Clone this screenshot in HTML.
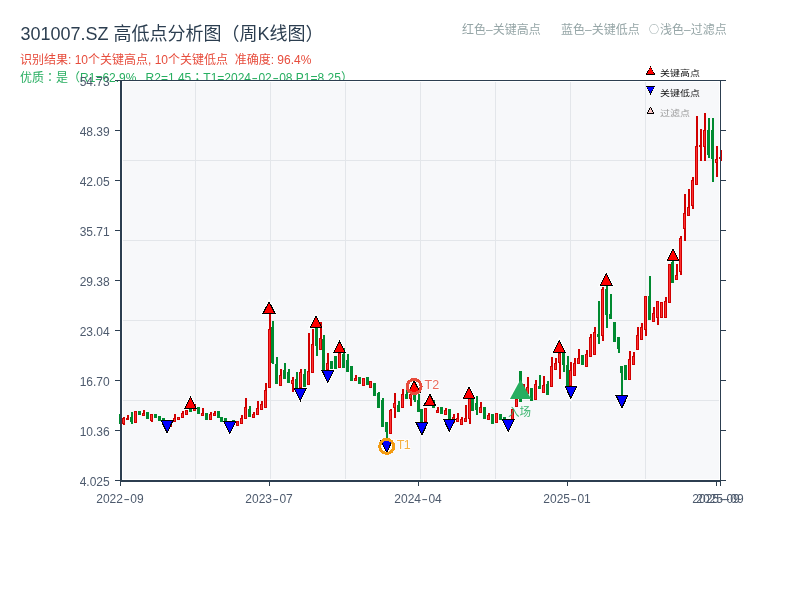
<!DOCTYPE html><html lang="zh-CN"><head><meta charset="utf-8"><title>301007.SZ 高低点分析图（周K线图）</title><style>
html,body{margin:0;padding:0;background:#fff;}
body{width:800px;height:600px;position:relative;overflow:hidden;font-family:"Liberation Sans", "Noto Sans CJK SC", sans-serif;}
.t{position:absolute;white-space:pre;line-height:1;}
.hy{display:inline-block;width:7.4px;text-align:center;transform:scaleX(1.6);}
.tc{font-family:"Noto Sans CJK TC",sans-serif;line-height:0;}
.cj{display:inline-block;width:12px;height:12px;vertical-align:top;font:10px/12px "Noto Sans CJK SC",sans-serif;text-align:center;position:relative;top:-1px;}
.yl{position:absolute;left:39.7px;width:70px;text-align:right;font-size:12px;line-height:1;color:#4d5a6d;}
.xl{position:absolute;width:80px;text-align:center;font-size:12px;line-height:1;color:#4d5a6d;white-space:pre;}
svg{position:absolute;left:0;top:0;}
.lg{position:absolute;font-size:10px;transform:scaleY(0.85);transform-origin:0 50%;line-height:1;white-space:pre;}
</style></head><body>
<div class="t" style="left:20.5px;top:25px;font-size:18px;color:#2c3e50;">301007.SZ 高低点分析图（周K线图）</div>
<div class="t" style="left:20px;top:53.5px;font-size:12px;color:#e74c3c;">识别结果: 10个关键高点, 10个关键低点  准确度: 96.4%</div>
<div class="t" style="left:20px;top:71.5px;font-size:12px;color:#27ae60;">优质<span class="tc" lang="zh-Hant">：</span>是（R1=62.9%<span style="margin-right:2.5px">,</span> R2=1.45<span class="tc" lang="zh-Hant">；</span>T1=2024<span class="hy">-</span>02<span class="hy">-</span>08 P1=8.25）</div>
<div class="t" style="left:462px;top:23.5px;font-size:12px;color:#95a5a6;">红色–关键高点</div>
<div class="t" style="left:561px;top:23.5px;font-size:12px;color:#95a5a6;">蓝色–关键低点</div>
<div class="t" style="left:648px;top:23.5px;font-size:12px;color:#95a5a6;"><span class="cj">○</span>浅色–过滤点</div>
<svg width="800" height="600" viewBox="0 0 800 600" font-family="'Liberation Sans', 'Noto Sans CJK SC', sans-serif">
<rect x="120" y="80" width="601" height="401" fill="#ffffff"/>
<rect x="123" y="82" width="596" height="397" fill="#f7f8fa"/>
<path d="M195.5 82V479M270.5 82V479M345.5 82V479M420.5 82V479M495.5 82V479M570.5 82V479M645.5 82V479M123 160.5H719M123 240.5H719M123 320.5H719M123 400.5H719" stroke="#e3e6ea" stroke-width="1" fill="none"/>
<path d="M190.59 393.79L198.92 410.2L182.26 410.2ZM269.02 298.34L277.35 314.75L260.69 314.75ZM316.08 312.59L324.41 329L307.75 329ZM339.61 337.89L347.94 354.3L331.28 354.3ZM414.12 377.39L422.45 393.8L405.79 393.8ZM429.8 390.84L438.13 407.25L421.47 407.25ZM469.02 383.59L477.35 400L460.69 400ZM559.22 337.09L567.54 353.5L550.89 353.5ZM606.27 270.29L614.6 286.7L597.95 286.7ZM672.94 245.89L681.27 262.3L664.61 262.3ZM158.76 419.1L175.36 419.1L167.06 436.08ZM221.5 420.1L238.11 420.1L229.8 437.08ZM292.09 387.1L308.69 387.1L300.39 404.08ZM319.54 368.9L336.15 368.9L327.84 385.88ZM378.36 438.9L394.97 438.9L386.67 455.88ZM413.66 421.1L430.26 421.1L421.96 438.08ZM441.11 417.8L457.71 417.8L449.41 434.78ZM499.93 417.9L516.54 417.9L508.24 434.88ZM562.68 384.9L579.28 384.9L570.98 401.88ZM613.66 394.1L630.26 394.1L621.96 411.08ZM520.5 377.3L532.78 400L508.22 400Z" fill="#ffffff"/>
<path d="M123 417h2v8h-2zM127 415h2v5h-2zM135 411h2v12h-2zM143 410h2v6h-2zM151 414h2v8h-2zM170 421h2v6h-2zM174 414h2v8h-2zM178 417h2v3h-2zM182 411h2v7h-2zM186 410h2v5h-2zM194 404h2v7h-2zM202 408h2v8h-2zM210 412h2v8h-2zM214 411h2v5h-2zM237 421h2v5h-2zM241 415h2v9h-2zM245 398h2v21h-2zM253 412h2v6h-2zM257 401h2v14h-2zM261 401h2v9h-2zM265 383h2v25h-2zM269 307h2v81h-2zM280 369h2v17h-2zM292 377h2v15h-2zM300 369h2v25h-2zM308 333h2v52h-2zM312 329h2v44h-2zM320 322h2v28h-2zM327 353h2v23h-2zM339 347h2v21h-2zM355 375h2v6h-2zM363 378h2v8h-2zM370 381h2v7h-2zM390 409h2v25h-2zM394 393h2v25h-2zM402 389h2v19h-2zM410 394h2v12h-2zM425 408h2v14h-2zM429 400h2v6h-2zM437 407h2v6h-2zM445 408h2v7h-2zM453 414h2v9h-2zM457 413h2v9h-2zM461 417h2v8h-2zM465 405h2v17h-2zM469 393h2v31h-2zM480 402h2v11h-2zM488 413h2v7h-2zM496 413h2v10h-2zM512 409h2v11h-2zM516 399h2v8h-2zM523 384h2v13h-2zM527 377h2v17h-2zM535 380h2v20h-2zM543 376h2v17h-2zM551 357h2v30h-2zM555 358h2v12h-2zM559 346h2v33h-2zM570 362h2v30h-2zM574 358h2v18h-2zM578 349h2v15h-2zM586 350h2v17h-2zM590 334h2v23h-2zM594 327h2v28h-2zM602 287h2v54h-2zM629 351h2v29h-2zM633 352h2v13h-2zM637 327h2v23h-2zM641 323h2v17h-2zM645 296h2v40h-2zM653 307h2v15h-2zM657 301h2v24h-2zM661 302h2v16h-2zM665 297h2v21h-2zM669 264h2v39h-2zM676 264h2v16h-2zM680 236h2v39h-2zM684 194h2v47h-2zM688 189h2v27h-2zM692 177h2v32h-2zM696 116h2v69h-2zM700 129h2v32h-2zM704 113h2v48h-2zM716 146h2v31h-2zM720 150h2v11h-2zM122 418h3v6h-3zM126 418h3v2h-3zM134 411h3v12h-3zM142 413h3v3h-3zM150 414h3v7h-3zM169 422h3v5h-3zM173 418h3v4h-3zM177 417h3v3h-3zM181 413h3v5h-3zM185 410h3v5h-3zM193 404h3v7h-3zM201 413h3v3h-3zM209 414h3v6h-3zM213 413h3v3h-3zM236 421h3v5h-3zM240 418h3v6h-3zM244 407h3v12h-3zM252 414h3v4h-3zM256 408h3v7h-3zM260 404h3v6h-3zM264 390h3v18h-3zM268 329h3v59h-3zM279 375h3v11h-3zM291 380h3v4h-3zM299 372h3v16h-3zM307 371h3v14h-3zM311 344h3v29h-3zM319 338h3v12h-3zM326 363h3v7h-3zM338 353h3v15h-3zM354 378h3v3h-3zM362 378h3v8h-3zM369 381h3v7h-3zM389 410h3v24h-3zM393 403h3v5h-3zM401 394h3v14h-3zM409 394h3v5h-3zM424 408h3v14h-3zM428 402h3v4h-3zM436 410h3v3h-3zM444 410h3v5h-3zM452 417h3v6h-3zM456 418h3v4h-3zM460 419h3v6h-3zM464 418h3v4h-3zM468 398h3v21h-3zM479 407h3v6h-3zM487 415h3v5h-3zM495 413h3v10h-3zM511 409h3v11h-3zM515 399h3v8h-3zM522 386h3v11h-3zM526 387h3v7h-3zM534 384h3v16h-3zM542 385h3v8h-3zM550 366h3v21h-3zM554 363h3v7h-3zM558 353h3v10h-3zM569 370h3v16h-3zM573 363h3v13h-3zM577 358h3v6h-3zM585 354h3v13h-3zM589 337h3v20h-3zM593 332h3v23h-3zM601 289h3v47h-3zM628 359h3v21h-3zM632 356h3v9h-3zM636 335h3v15h-3zM640 327h3v13h-3zM644 296h3v34h-3zM652 313h3v9h-3zM656 301h3v17h-3zM660 302h3v16h-3zM664 301h3v17h-3zM668 264h3v39h-3zM675 275h3v5h-3zM679 238h3v34h-3zM683 213h3v16h-3zM687 207h3v9h-3zM691 180h3v26h-3zM695 146h3v39h-3zM699 145h3v2h-3zM703 130h3v17h-3zM715 159h3v4h-3zM719 157h3v2h-3z" fill="#d00000" shape-rendering="crispEdges"/>
<path d="M120 414h2v10h-2zM131 412h2v12h-2zM139 411h2v4h-2zM147 412h2v7h-2zM155 414h2v4h-2zM159 416h2v5h-2zM163 418h2v8h-2zM167 421h2v6h-2zM190 404h2v8h-2zM198 407h2v7h-2zM206 413h2v7h-2zM218 411h2v7h-2zM221 417h2v5h-2zM225 418h2v5h-2zM229 422h2v6h-2zM233 420h2v4h-2zM249 406h2v11h-2zM272 321h2v43h-2zM276 357h2v27h-2zM284 363h2v16h-2zM288 369h2v14h-2zM296 372h2v18h-2zM304 369h2v18h-2zM316 322h2v34h-2zM323 335h2v35h-2zM331 361h2v8h-2zM335 356h2v13h-2zM343 348h2v20h-2zM347 354h2v18h-2zM351 366h2v15h-2zM359 377h2v7h-2zM367 377h2v8h-2zM374 383h2v13h-2zM378 392h2v16h-2zM382 398h2v29h-2zM386 422h2v18h-2zM398 401h2v11h-2zM406 389h2v10h-2zM414 388h2v14h-2zM418 394h2v18h-2zM421 409h2v17h-2zM433 400h2v8h-2zM441 407h2v7h-2zM449 409h2v15h-2zM472 398h2v13h-2zM476 396h2v19h-2zM484 407h2v12h-2zM492 414h2v10h-2zM500 414h2v6h-2zM504 417h2v4h-2zM508 420h2v6h-2zM520 371h2v31h-2zM531 388h2v13h-2zM539 375h2v14h-2zM547 381h2v14h-2zM563 352h2v20h-2zM567 356h2v31h-2zM582 355h2v10h-2zM598 301h2v43h-2zM606 280h2v48h-2zM610 294h2v25h-2zM614 322h2v20h-2zM618 337h2v16h-2zM621 366h2v34h-2zM625 365h2v15h-2zM649 276h2v44h-2zM672 256h2v27h-2zM708 118h2v40h-2zM712 118h2v64h-2zM119 414h3v10h-3zM130 417h3v5h-3zM138 411h3v4h-3zM146 412h3v7h-3zM154 414h3v4h-3zM158 416h3v5h-3zM162 418h3v3h-3zM166 422h3v4h-3zM189 405h3v7h-3zM197 407h3v7h-3zM205 413h3v7h-3zM217 411h3v7h-3zM220 417h3v5h-3zM224 418h3v5h-3zM228 423h3v3h-3zM232 420h3v4h-3zM248 409h3v8h-3zM271 327h3v36h-3zM275 364h3v20h-3zM283 370h3v9h-3zM287 372h3v11h-3zM295 379h3v9h-3zM303 374h3v13h-3zM315 328h3v18h-3zM322 339h3v31h-3zM330 361h3v8h-3zM334 356h3v13h-3zM342 354h3v14h-3zM346 360h3v12h-3zM350 366h3v15h-3zM358 377h3v7h-3zM366 377h3v8h-3zM373 383h3v13h-3zM377 393h3v15h-3zM381 400h3v27h-3zM385 422h3v10h-3zM397 405h3v7h-3zM405 394h3v5h-3zM413 395h3v5h-3zM417 400h3v12h-3zM420 409h3v13h-3zM432 400h3v8h-3zM440 407h3v7h-3zM448 409h3v10h-3zM471 398h3v13h-3zM475 403h3v7h-3zM483 407h3v12h-3zM491 414h3v10h-3zM499 414h3v6h-3zM503 417h3v4h-3zM507 420h3v6h-3zM519 371h3v31h-3zM530 388h3v13h-3zM538 386h3v3h-3zM546 384h3v11h-3zM562 352h3v13h-3zM566 365h3v22h-3zM581 355h3v10h-3zM597 334h3v3h-3zM605 289h3v26h-3zM609 314h3v5h-3zM613 322h3v20h-3zM617 337h3v12h-3zM620 366h3v7h-3zM624 365h3v15h-3zM648 296h3v24h-3zM671 262h3v21h-3zM707 130h3v25h-3zM711 130h3v29h-3z" fill="#008a30" shape-rendering="crispEdges"/>
<path d="M123 419h1v4h-1zM135 412h1v10h-1zM143 414h1v1h-1zM151 415h1v5h-1zM170 423h1v3h-1zM174 419h1v2h-1zM178 418h1v1h-1zM182 414h1v3h-1zM186 411h1v3h-1zM194 405h1v5h-1zM202 414h1v1h-1zM210 415h1v4h-1zM214 414h1v1h-1zM237 422h1v3h-1zM241 419h1v4h-1zM245 408h1v10h-1zM253 415h1v2h-1zM257 409h1v5h-1zM261 405h1v4h-1zM265 391h1v16h-1zM269 330h1v57h-1zM280 376h1v9h-1zM292 381h1v2h-1zM300 373h1v14h-1zM308 372h1v12h-1zM312 345h1v27h-1zM320 339h1v10h-1zM327 364h1v5h-1zM339 354h1v13h-1zM355 379h1v1h-1zM363 379h1v6h-1zM370 382h1v5h-1zM390 411h1v22h-1zM394 404h1v3h-1zM402 395h1v12h-1zM410 395h1v3h-1zM425 409h1v12h-1zM429 403h1v2h-1zM437 411h1v1h-1zM445 411h1v3h-1zM453 418h1v4h-1zM457 419h1v2h-1zM461 420h1v4h-1zM465 419h1v2h-1zM469 399h1v19h-1zM480 408h1v4h-1zM488 416h1v3h-1zM496 414h1v8h-1zM512 410h1v9h-1zM516 400h1v6h-1zM523 387h1v9h-1zM527 388h1v5h-1zM535 385h1v14h-1zM543 386h1v6h-1zM551 367h1v19h-1zM555 364h1v5h-1zM559 354h1v8h-1zM570 371h1v14h-1zM574 364h1v11h-1zM578 359h1v4h-1zM586 355h1v11h-1zM590 338h1v18h-1zM594 333h1v21h-1zM602 290h1v45h-1zM629 360h1v19h-1zM633 357h1v7h-1zM637 336h1v13h-1zM641 328h1v11h-1zM645 297h1v32h-1zM653 314h1v7h-1zM657 302h1v15h-1zM661 303h1v14h-1zM665 302h1v15h-1zM669 265h1v37h-1zM676 276h1v3h-1zM680 239h1v32h-1zM684 214h1v14h-1zM688 208h1v7h-1zM692 181h1v24h-1zM696 147h1v37h-1zM704 131h1v15h-1zM716 160h1v2h-1z" fill="#fd3232" shape-rendering="crispEdges"/>
<path d="M520.5 379.4L531.1 399L509.9 399Z" fill="#27ae60"/>
<path d="M190.59 396L197.29 409.2L183.89 409.2ZM269.02 300.55L275.72 313.75L262.32 313.75ZM316.08 314.8L322.78 328L309.38 328ZM339.61 340.1L346.31 353.3L332.91 353.3ZM414.12 379.6L420.82 392.8L407.42 392.8ZM429.8 393.05L436.5 406.25L423.1 406.25ZM469.02 385.8L475.72 399L462.32 399ZM559.22 339.3L565.92 352.5L552.52 352.5ZM606.27 272.5L612.97 285.7L599.57 285.7ZM672.94 248.1L679.64 261.3L666.24 261.3ZM160.36 420.1L173.76 420.1L167.06 433.8ZM223.1 421.1L236.5 421.1L229.8 434.8ZM293.69 388.1L307.09 388.1L300.39 401.8ZM321.14 369.9L334.54 369.9L327.84 383.6ZM379.97 439.9L393.37 439.9L386.67 453.6ZM415.26 422.1L428.66 422.1L421.96 435.8ZM442.71 418.8L456.11 418.8L449.41 432.5ZM501.54 418.9L514.94 418.9L508.24 432.6ZM564.28 385.9L577.68 385.9L570.98 399.6ZM615.26 395.1L628.66 395.1L621.96 408.8Z" fill="#000" shape-rendering="crispEdges"/>
<path d="M190.59 398.21L195.66 408.2L185.52 408.2ZM269.02 302.76L274.09 312.75L263.95 312.75ZM316.08 317.01L321.15 327L311.01 327ZM339.61 342.31L344.68 352.3L334.54 352.3ZM414.12 381.81L419.19 391.8L409.05 391.8ZM429.8 395.26L434.87 405.25L424.73 405.25ZM469.02 388.01L474.09 398L463.95 398ZM559.22 341.51L564.29 351.5L554.14 351.5ZM606.27 274.71L611.35 284.7L601.2 284.7ZM672.94 250.31L678.01 260.3L667.87 260.3Z" fill="#ff0000" shape-rendering="crispEdges"/>
<path d="M161.96 421.1L172.16 421.1L167.06 431.52ZM224.71 422.1L234.9 422.1L229.8 432.52ZM295.29 389.1L305.49 389.1L300.39 399.52ZM322.75 370.9L332.94 370.9L327.84 381.32ZM381.57 440.9L391.76 440.9L386.67 451.32ZM416.86 423.1L427.06 423.1L421.96 433.52ZM444.31 419.8L454.51 419.8L449.41 430.22ZM503.14 419.9L513.33 419.9L508.24 430.32ZM565.88 386.9L576.08 386.9L570.98 397.32ZM616.86 396.1L627.06 396.1L621.96 406.52Z" fill="#0000ff" shape-rendering="crispEdges"/>
<circle cx="386.67" cy="446.4" r="7" fill="none" stroke="#f39c12" stroke-width="3" shape-rendering="crispEdges"/>
<circle cx="414.12" cy="386.5" r="7" fill="none" stroke="#e74c3c" stroke-width="3" shape-rendering="crispEdges"/>
<text x="396.8" y="449.2" font-size="12.5" fill="#f5b041" stroke="#ffffff" stroke-width="2" stroke-opacity="0.7" paint-order="stroke" letter-spacing="-0.8">T1</text>
<text x="424.6" y="389.2" font-size="12.5" fill="#ea6a5c" stroke="#ffffff" stroke-width="2" stroke-opacity="0.7" paint-order="stroke">T2</text>
<text x="519.5" y="416.2" font-size="11.5" fill="#27ae60" fill-opacity="0.9" text-anchor="middle">入场</text>
<path d="M115 80.5H726M120 130.5h-5M120 180.5h-5M120 230.5h-5M120 280.5h-5M120 330.5h-5M120 380.5h-5M120 430.5h-5M120 480.5h-5M721 130.5h5M721 180.5h5M721 230.5h5M721 280.5h5M721 330.5h5M721 380.5h5M721 430.5h5M721 480.5h5M720.5 80V486" stroke="#2c3e50" stroke-width="1" fill="none"/>
<path d="M121 81V482M120 481H720" stroke="#2c3e50" stroke-width="2" fill="none"/>
<path d="M120.5 482V486M269.5 482V486M418.5 482V486M567.5 482V486M716.5 482V486M720.5 482V486" stroke="#2c3e50" stroke-width="1" fill="none"/>
<path d="M650.5 65.9L655.3 74.9L645.7 74.9ZM645.7 85.9L655.3 85.9L650.5 94.9ZM650.5 106.6L654.4 113.9L646.6 113.9Z" fill="#000" shape-rendering="crispEdges"/>
<path d="M650.5 67.49L654.05 74.15L646.95 74.15Z" fill="#ff0000" shape-rendering="crispEdges"/>
<path d="M646.95 86.65L654.05 86.65L650.5 93.31Z" fill="#0000ff" shape-rendering="crispEdges"/>
<path d="M650.5 108.19L653.15 113.15L647.85 113.15Z" fill="#f9c6c6" shape-rendering="crispEdges"/>
</svg>
<div class="yl" style="top:76.4px;">54.73</div>
<div class="yl" style="top:126.4px;">48.39</div>
<div class="yl" style="top:176.4px;">42.05</div>
<div class="yl" style="top:226.4px;">35.71</div>
<div class="yl" style="top:276.4px;">29.38</div>
<div class="yl" style="top:326.4px;">23.04</div>
<div class="yl" style="top:376.4px;">16.70</div>
<div class="yl" style="top:426.4px;">10.36</div>
<div class="yl" style="top:476.4px;">4.025</div>
<div class="xl" style="left:80px;top:492.7px;">2022<span class="hy">-</span>09</div>
<div class="xl" style="left:229.02px;top:492.7px;">2023<span class="hy">-</span>07</div>
<div class="xl" style="left:378.04px;top:492.7px;">2024<span class="hy">-</span>04</div>
<div class="xl" style="left:527.06px;top:492.7px;">2025<span class="hy">-</span>01</div>
<div class="xl" style="left:676.08px;top:492.7px;">2025<span class="hy">-</span>09</div>
<div class="xl" style="left:680px;top:492.7px;">2025<span class="hy">-</span>09</div>
<div class="lg" style="left:660px;top:67.8px;color:#111;">关键高点</div>
<div class="lg" style="left:660px;top:87.8px;color:#111;">关键低点</div>
<div class="lg" style="left:660px;top:107.8px;color:#999;">过滤点</div>
</body></html>
